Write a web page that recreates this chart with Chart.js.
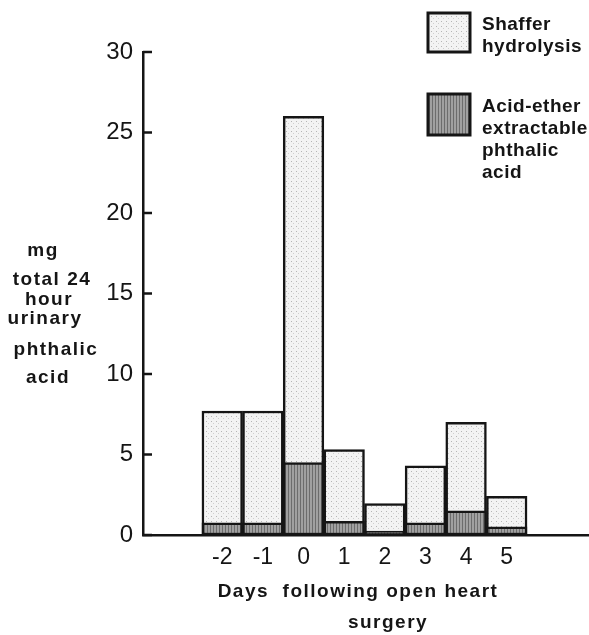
<!DOCTYPE html>
<html><head><meta charset="utf-8">
<script src="https://cdn.jsdelivr.net/npm/chart.js@4"></script>
<style>html,body{margin:0;padding:0;background:#fff}#wrap{width:589px;height:635px;position:relative}</style>
</head><body><div id="wrap"><canvas id="c" width="589" height="635"></canvas></div>
<script>
// ---- data ----
const days = [-2, -1, 0, 1, 2, 3, 4, 5];
const dayLabels = ['-2', '-1', '0', '1', '2', '3', '4', '5'];
const shafferTotal = [7.7, 7.7, 26.0, 5.3, 1.95, 4.3, 7.0, 2.4];
const acidEther = [0.75, 0.75, 4.5, 0.85, 0.25, 0.75, 1.5, 0.5];
const yTicks = [0, 5, 10, 15, 20, 25, 30];
const shafferName = ['Shaffer', 'hydrolysis'];
const acidName = ['Acid-ether', 'extractable', 'phthalic', 'acid'];
const xTitle = ['Days  following open heart', 'surgery'];
const yTitle = ['mg', 'total 24', 'hour', 'urinary', 'phthalic', 'acid'];

// ---- fill patterns ----
function dotPattern() {
  const c = document.createElement('canvas'); c.width = 5; c.height = 5;
  const g = c.getContext('2d');
  g.fillStyle = '#f3f3f3'; g.fillRect(0, 0, 5, 5);
  g.fillStyle = '#b5b5b5'; g.fillRect(1, 1, 1, 1);
  g.fillStyle = '#cfcfcf'; g.fillRect(3, 3, 1, 1);
  return g.createPattern(c, 'repeat');
}
function stripePattern() {
  const c = document.createElement('canvas'); c.width = 3; c.height = 3;
  const g = c.getContext('2d');
  g.fillStyle = '#a0a0a0'; g.fillRect(0, 0, 3, 3);
  g.fillStyle = '#6c6c6c'; g.fillRect(0, 0, 1, 3);
  return g.createPattern(c, 'repeat');
}
const lightFill = dotPattern();
const darkFill = stripePattern();

const TEXT_FONT = 'bold 19px "Liberation Sans", Arial, sans-serif';

const decorPlugin = {
  id: 'decor',
  afterDraw(chart) {
    const ctx = chart.ctx;
    const ys = chart.scales.y, xs = chart.scales.x;
    ctx.save();
    // inward tick marks on y axis
    ctx.strokeStyle = '#151515'; ctx.lineWidth = 2.5;
    yTicks.forEach(v => {
      const y = ys.getPixelForValue(v);
      ctx.beginPath(); ctx.moveTo(xs.left, y); ctx.lineTo(xs.left + 9, y); ctx.stroke();
    });
    // text
    ctx.fillStyle = '#151515';
    ctx.font = TEXT_FONT;
    ctx.letterSpacing = '1.5px';
    ctx.textBaseline = 'alphabetic';
    ctx.textAlign = 'center';
    // x title
    ctx.fillText(xTitle[0], 358, 597);
    ctx.fillText(xTitle[1], 388, 628);
    // y title (multi-line, centered)
    const yPos = [[43, 256], [52, 285], [49, 305], [45, 324], [56, 355], [48, 383]];
    yTitle.forEach((t, i) => ctx.fillText(t, yPos[i][0], yPos[i][1]));
    // legend
    ctx.textAlign = 'left';
    ctx.letterSpacing = '0.5px';
    const ds = chart.data.datasets;
    const boxes = [[428, 13, 42, 39], [428, 94, 42, 41]];
    const names = [shafferName, acidName];
    const baselines = [[30, 52], [112, 134, 156, 178]];
    [1, 0].forEach((di, k) => {
      const b = boxes[k];
      ctx.fillStyle = ds[di].backgroundColor;
      ctx.fillRect(b[0], b[1], b[2], b[3]);
      ctx.strokeStyle = '#151515'; ctx.lineWidth = 3;
      ctx.strokeRect(b[0], b[1], b[2], b[3]);
      ctx.fillStyle = '#151515';
      names[k].forEach((t, j) => ctx.fillText(t, 482, baselines[k][j]));
    });
    ctx.restore();
  }
};

new Chart(document.getElementById('c'), {
  type: 'bar',
  data: {
    datasets: [
      {
        label: acidName.join(' '),
        data: days.map((d, i) => ({ x: d, y: acidEther[i] })),
        backgroundColor: darkFill,
        borderColor: '#151515', borderWidth: 2.5, borderSkipped: false,
        grouped: false, order: 0,
        barPercentage: 1, categoryPercentage: 1
      },
      {
        label: shafferName.join(' '),
        data: days.map((d, i) => ({ x: d, y: shafferTotal[i] })),
        backgroundColor: lightFill,
        borderColor: '#151515', borderWidth: 2.5, borderSkipped: false,
        grouped: false, order: 1,
        barPercentage: 1, categoryPercentage: 1
      }
    ]
  },
  options: {
    responsive: false, animation: false,
    layout: { padding: { left: 0, right: 1, top: 52, bottom: 0 } },
    plugins: { legend: { display: false }, tooltip: { enabled: false }, title: { display: false } },
    scales: {
      x: {
        type: 'linear', min: -3.95, max: 7.0, offset: false,
        afterFit: s => { s.height = 100; },
        afterBuildTicks: s => { s.ticks = days.map(v => ({ value: v })); },
        grid: { display: false, drawTicks: false, offset: false },
        border: { display: true, color: '#151515', width: 2.5 },
        ticks: {
          autoSkip: false, maxRotation: 0, padding: 9, color: '#151515',
          font: { family: '"Liberation Sans", Arial, sans-serif', size: 23 },
          callback: (v) => { const i = days.indexOf(v); return i >= 0 ? dayLabels[i] : ''; }
        }
      },
      y: {
        min: 0, max: 30,
        afterFit: s => { s.width = 143; },
        afterBuildTicks: s => { s.ticks = yTicks.map(v => ({ value: v })); },
        grid: { display: false, drawTicks: false },
        border: { display: true, color: '#151515', width: 2.5 },
        ticks: {
          padding: 10, color: '#151515',
          font: { family: '"Liberation Sans", Arial, sans-serif', size: 24 }
        }
      }
    }
  },
  plugins: [decorPlugin]
});
</script>
</body></html>
